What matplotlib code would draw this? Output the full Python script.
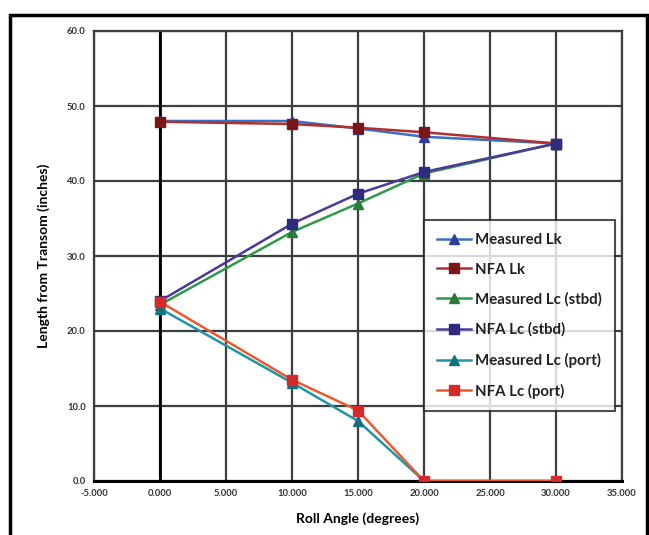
import matplotlib
matplotlib.use("Agg")
import matplotlib.pyplot as plt
from matplotlib.patches import Rectangle
from matplotlib.ticker import FormatStrFormatter, MultipleLocator

plt.rcParams['font.family'] = ['Lato', 'DejaVu Sans']

roll = [0, 10, 15, 20, 30]
measured_lk = [48.0, 48.0, 47.0, 45.9, 45.0]
nfa_lk = [47.9, 47.6, 47.1, 46.5, 45.0]
measured_lc_stbd = [23.5, 33.2, 37.0, 41.0, 45.0]
nfa_lc_stbd = [24.0, 34.3, 38.3, 41.2, 45.0]
measured_lc_port = [23.0, 13.1, 8.0, 0.0, 0.0]
nfa_lc_port = [23.9, 13.5, 9.4, 0.0, 0.0]

series = [
    ("Measured Lk", measured_lk, "#3a6fc8", "#2b3f9a", "^"),
    ("NFA Lk", nfa_lk, "#b03030", "#7a1518", "s"),
    ("Measured Lc (stbd)", measured_lc_stbd, "#2e9b48", "#2a7a3a", "^"),
    ("NFA Lc (stbd)", nfa_lc_stbd, "#4a3a98", "#2e2a7e", "s"),
    ("Measured Lc (port)", measured_lc_port, "#1f95a6", "#137080", "^"),
    ("NFA Lc (port)", nfa_lc_port, "#e85a30", "#d42a2a", "s"),
]

fig = plt.figure(figsize=(6.49, 5.35), dpi=100)
ax = fig.add_axes([94/649, 1 - 481/535, (622-94)/649, (481-31)/535])

ax.set_xlim(-5, 35)
ax.set_ylim(0, 60)
ax.xaxis.set_major_locator(MultipleLocator(5))
ax.yaxis.set_major_locator(MultipleLocator(10))
ax.xaxis.set_major_formatter(FormatStrFormatter('%.3f'))
ax.yaxis.set_major_formatter(FormatStrFormatter('%.1f'))
ax.grid(True, color="#3a3f3f", linewidth=1.6)
ax.set_axisbelow(True)
for s in ax.spines.values():
    s.set_color("#3a3f3f")
    s.set_linewidth(1.6)
ax.spines['bottom'].set_color("black")
ax.spines['bottom'].set_linewidth(2.2)
ax.axvline(0, color="black", linewidth=2.0, zorder=1.5)
ax.tick_params(length=0, labelsize=6.8, labelcolor="#333333", pad=6)
for t in ax.get_xticklabels() + ax.get_yticklabels():
    t.set_fontweight("bold")

for label, vals, lc, mc, mk in series:
    ax.plot(roll, vals, color=lc, linewidth=1.8, marker=mk, markersize=7,
            markerfacecolor=mc, markeredgecolor=mc, label=label, zorder=3)

leg = ax.legend(loc="upper left", bbox_to_anchor=((424-94)/528, (481-220)/450),
                fontsize=10.8, frameon=True, fancybox=False, edgecolor="#222222",
                handlelength=2.3, handletextpad=0.25, labelspacing=1.05,
                borderpad=0.85, borderaxespad=0)
leg.get_frame().set_linewidth(1.5)
for t in leg.get_texts():
    t.set_fontweight("bold")
    t.set_color("#222222")

ax.set_xlabel("Roll Angle (degrees)", fontsize=10, fontweight="bold", labelpad=10)
ax.set_ylabel("Length from Transom (inches)", fontsize=10, fontweight="bold", labelpad=12)

fig.patches.append(Rectangle((10/649, -0.05), (647-10)/649, 1 - 15/535 + 0.05,
                             transform=fig.transFigure, fill=False,
                             edgecolor="black", linewidth=2.5, zorder=0))

fig.savefig("out.png", dpi=100)
